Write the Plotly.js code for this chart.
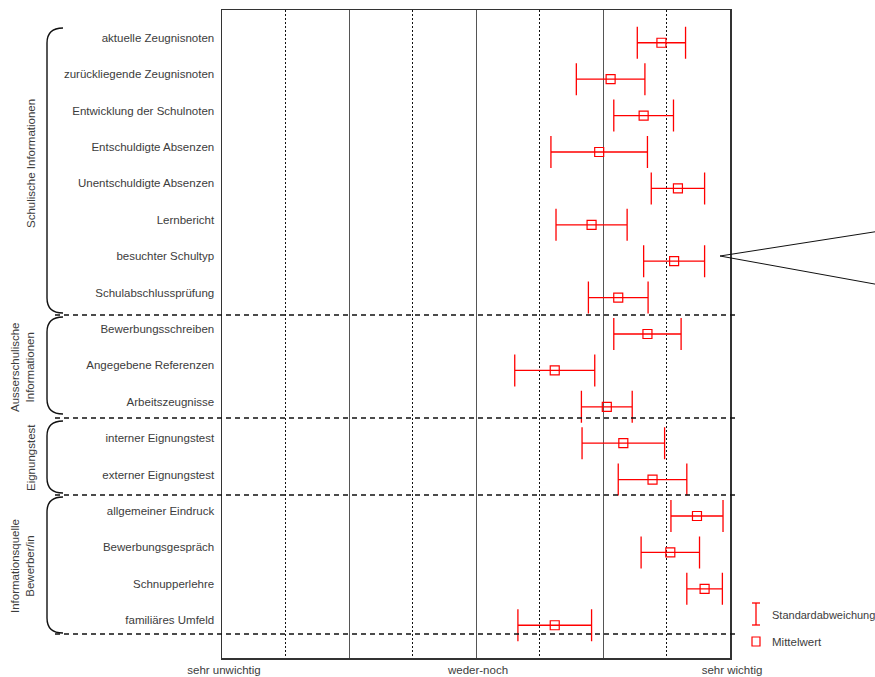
<!DOCTYPE html>
<html>
<head>
<meta charset="utf-8">
<script src="https://cdn.plot.ly/plotly-3.0.1.min.js"></script>
<style>html,body{margin:0;padding:0;background:#fff;}#chart{width:875px;height:677px;}</style>
</head>
<body>
<div id="chart"></div>
<script>
// ---- data ----
const categories = [
  'aktuelle Zeugnisnoten', 'zurückliegende Zeugnisnoten', 'Entwicklung der Schulnoten',
  'Entschuldigte Absenzen', 'Unentschuldigte Absenzen', 'Lernbericht', 'besuchter Schultyp',
  'Schulabschlussprüfung', 'Bewerbungsschreiben', 'Angegebene Referenzen', 'Arbeitszeugnisse',
  'interner Eignungstest', 'externer Eignungstest', 'allgemeiner Eindruck', 'Bewerbungsgespräch',
  'Schnupperlehre', 'familiäres Umfeld'
];
const means = [4.46, 4.06, 4.32, 3.97, 4.59, 3.91, 4.56, 4.12, 4.35, 3.62, 4.03, 4.16, 4.39, 4.74, 4.53, 4.80, 3.62];
const sds   = [0.19, 0.27, 0.235, 0.38, 0.21, 0.28, 0.24, 0.235, 0.265, 0.315, 0.20, 0.325, 0.27, 0.205, 0.23, 0.14, 0.29];
const scaleTickValues = [1, 2, 3, 4, 5];
const scaleTickLabels = ['sehr unwichtig', '', 'weder-noch', '', 'sehr wichtig'];
const groupLabels = ['Schulische Informationen', 'Ausserschulische<br>Informationen', 'Eignungstest', 'Informationsquelle<br>Bewerber/in'];
const legendLabels = ['Standardabweichung', 'Mittelwert'];

// ---- layout helpers (pixel -> axis/paper positions) ----
const L = 222, R = 730, T = 10, B = 658;
const yr = [16.9, -0.9];
const py = px => yr[1] + (px - T) * (yr[0] - yr[1]) / (B - T);
const paperX = px => (px - L) / (R - L);
const paperY = px => (B - px) / (B - T);
const idx = categories.map((_, i) => i);
const red = 'rgb(255,0,0)';
const txt = '#3c3c3c';
const FONT = 'Liberation Sans, Arial, sans-serif';
const FS = 11.5;

const trace = {
  type: 'scatter', mode: 'markers',
  x: means, y: idx,
  marker: {symbol: 'square-open', size: 9, color: red, line: {width: 1.2, color: red}},
  error_x: {type: 'data', array: sds, visible: true, color: red, thickness: 1.3, width: 16},
  showlegend: false, hoverinfo: 'x+y'
};

const shapes = [];
// group separators (dashed)
[315, 418, 495, 634].forEach(p => shapes.push({
  type: 'line', xref: 'paper', yref: 'y', x0: paperX(55), x1: paperX(737), y0: py(p), y1: py(p),
  line: {color: '#111', width: 1.5, dash: '5px,4px'}
}));
// braces
function brace(top, bot) {
  const xe = paperX(63), xv = paperX(47);
  const r = 15;
  return {
    type: 'path', xref: 'paper', yref: 'y',
    path: `M ${xe} ${py(top)} Q ${xv} ${py(top)} ${xv} ${py(top + r)} L ${xv} ${py(bot - r)} Q ${xv} ${py(bot)} ${xe} ${py(bot)}`,
    line: {color: '#111', width: 1.4}
  };
}
[[28, 313], [317, 414], [421, 493], [497, 633]].forEach(b => shapes.push(brace(b[0], b[1])));
// callout
shapes.push({type: 'line', xref: 'paper', yref: 'paper', x0: paperX(720), y0: paperY(256), x1: paperX(880), y1: paperY(231), line: {color: '#111', width: 1}});
shapes.push({type: 'line', xref: 'paper', yref: 'paper', x0: paperX(720), y0: paperY(256), x1: paperX(880), y1: paperY(285), line: {color: '#111', width: 1}});
// legend icons
shapes.push({type: 'line', xref: 'paper', yref: 'paper', x0: paperX(756), x1: paperX(756), y0: paperY(603), y1: paperY(625), line: {color: red, width: 1.3}});
shapes.push({type: 'line', xref: 'paper', yref: 'paper', x0: paperX(752), x1: paperX(760), y0: paperY(603), y1: paperY(603), line: {color: red, width: 1.3}});
shapes.push({type: 'line', xref: 'paper', yref: 'paper', x0: paperX(752), x1: paperX(760), y0: paperY(625), y1: paperY(625), line: {color: red, width: 1.3}});
shapes.push({type: 'rect', xref: 'paper', yref: 'paper', x0: paperX(752), x1: paperX(760), y0: paperY(637), y1: paperY(646), line: {color: red, width: 1.2}});

const annotations = [];
const groupPos = [[31, 164], [22, 368], [31, 458], [22, 566]];
groupLabels.forEach((g, i) => annotations.push({
  xref: 'paper', yref: 'y', x: paperX(groupPos[i][0]), y: py(groupPos[i][1]),
  text: g, textangle: -90, showarrow: false, xanchor: 'center', yanchor: 'middle',
  font: {family: FONT, size: FS, color: txt}
}));
annotations.push({xref: 'paper', yref: 'paper', x: paperX(770), y: paperY(615), text: legendLabels[0], showarrow: false, xanchor: 'left', yanchor: 'middle', font: {family: FONT, size: 11, color: txt}});
annotations.push({xref: 'paper', yref: 'paper', x: paperX(770), y: paperY(642), text: legendLabels[1], showarrow: false, xanchor: 'left', yanchor: 'middle', font: {family: FONT, size: FS, color: txt}});

const layout = {
  width: 875, height: 677,
  margin: {l: L, r: 875 - R, t: T, b: 677 - B, pad: 0},
  paper_bgcolor: '#fff', plot_bgcolor: '#fff',
  font: {family: FONT, size: FS, color: txt},
  showlegend: false,
  xaxis: {
    range: [1, 5], tickvals: scaleTickValues, ticktext: scaleTickLabels,
    showgrid: true, gridcolor: '#555', gridwidth: 1,
    minor: {tickvals: [1.5, 2.5, 3.5, 4.5], showgrid: true, gridcolor: '#111', gridwidth: 1, griddash: '2px,2px'},
    showline: true, mirror: true, linecolor: '#333', linewidth: 1.5,
    zeroline: false, ticks: '', ticklabelshift: 2, ticklabelstandoff: 1,
    tickfont: {family: FONT, size: FS, color: txt}, fixedrange: true
  },
  yaxis: {
    range: yr, tickvals: idx, ticktext: categories,
    showgrid: false, zeroline: false, showline: true, mirror: true, linecolor: '#333', linewidth: 1.5,
    ticks: '', ticklabelshift: 5, ticklabelstandoff: 4,
    tickfont: {family: FONT, size: FS, color: txt}, fixedrange: true
  },
  shapes: shapes, annotations: annotations
};

Plotly.newPlot('chart', [trace], layout, {displayModeBar: false, staticPlot: true});
</script>
</body>
</html>
